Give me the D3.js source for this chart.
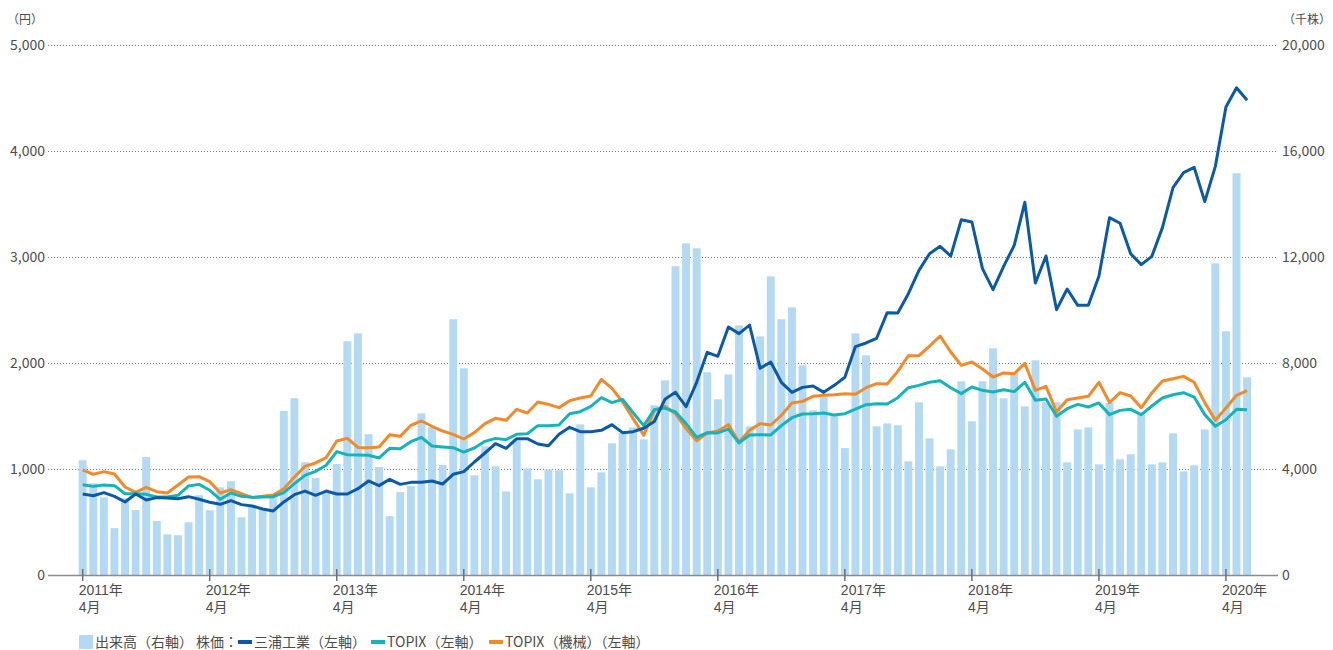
<!DOCTYPE html>
<html>
<head>
<meta charset="utf-8">
<style>
  body { margin: 0; background: #fff; }
  text { font-family: "Noto Sans CJK JP", "Noto Sans", sans-serif; fill: #4d4d4d; }
  text.xlab { font-family: "Liberation Sans", "Noto Sans CJK JP", sans-serif; }
</style>
</head>
<body>
  <div id="chart"></div>
  <script src="https://d3js.org/d3.v7.min.js"></script>
  <script>
    // monthly data, 2011/04 - 2020/06
    var startMonth = new Date(2011, 3, 1);

    // 出来高 (千株, right axis)
    var volume = [
      4330, 3460, 2930, 1770, 2900, 2450, 4450, 2040, 1535, 1500, 1990, 3010,
      2445, 3310, 3540, 2180, 2650, 2510, 2980, 6190, 6670, 4255, 3660, 3120,
      4190, 8820, 9120, 5315, 4075, 2220, 3130, 3360, 6100, 5580, 4150, 9650,
      7800, 3760, 4855, 4100, 3155, 5080, 4025, 3610, 3985, 3950, 3080, 5685,
      3310, 3875, 4970, 5350, 5570, 5120, 6400, 7345, 11650, 12515, 12330, 7650,
      6630, 7570, 9420, 5610, 9005, 11270, 9650, 10100, 7915, 6215, 6740, 6040,
      4790, 9120, 8290, 5610, 5720, 5650, 4290, 6515, 5155, 4100, 4740, 7310,
      5800, 7310, 8555, 6665, 7650, 6365, 8100, 6515, 6515, 4250, 5495, 5570,
      4175, 6490, 4365, 4555, 6080, 4175, 4250, 5345, 3910, 4140, 5495, 11760,
      9195, 15160, 7460
    ];

    // 三浦工業 (円)
    var miura = [
      764, 748, 777, 742, 689, 764, 708, 730, 726, 720, 739, 714,
      686, 667, 701, 664, 651, 623, 604, 689, 758, 792, 752, 792,
      764, 764, 814, 887, 843, 903, 855, 874, 874, 887, 858, 950,
      975, 1066, 1151, 1239, 1195, 1286, 1286, 1236, 1220, 1327, 1393, 1352,
      1352, 1365, 1418, 1343, 1352, 1384, 1448, 1657, 1723, 1588, 1818, 2101,
      2063, 2340, 2277, 2358, 1950, 2009, 1818, 1723, 1770, 1783, 1723, 1789,
      1865, 2155, 2189, 2233, 2475, 2472, 2654, 2874, 3031, 3101, 3009, 3352,
      3330, 2890, 2692, 2912, 3110, 3516, 2755, 3010, 2503, 2698, 2544, 2544,
      2818, 3371, 3318, 3031, 2928, 3006, 3277, 3654, 3796, 3846, 3522, 3855,
      4415, 4597, 4478
    ];

    // TOPIX (index, scaled to left axis)
    var topix = [
      852, 836, 849, 843, 767, 767, 761, 736, 736, 752, 840, 855,
      799, 714, 774, 742, 733, 736, 739, 777, 862, 940, 978, 1035,
      1164, 1135, 1132, 1129, 1104, 1195, 1192, 1258, 1299, 1217, 1208, 1201,
      1160, 1198, 1261, 1289, 1277, 1327, 1333, 1409, 1409, 1415, 1522, 1541,
      1591, 1673, 1626, 1657, 1531, 1409, 1560, 1575, 1538, 1428, 1299, 1343,
      1340, 1377, 1245, 1321, 1324, 1321, 1409, 1484, 1519, 1522, 1528, 1509,
      1522, 1565, 1607, 1616, 1613, 1673, 1767, 1789, 1818, 1833, 1767, 1711,
      1774, 1742, 1726, 1748, 1730, 1818, 1648, 1660, 1497, 1569, 1610, 1585,
      1623, 1513, 1553, 1563, 1513, 1594, 1670, 1701, 1720, 1679, 1513, 1403,
      1465, 1563, 1560
    ];

    // TOPIX (機械)
    var topixMach = [
      991, 950, 975, 953, 830, 780, 827, 786, 774, 849, 925, 928,
      881, 774, 805, 767, 730, 742, 755, 814, 925, 1025, 1057, 1107,
      1264, 1289, 1204, 1201, 1208, 1324, 1308, 1412, 1453, 1403, 1358, 1327,
      1283, 1343, 1428, 1478, 1459, 1563, 1528, 1632, 1610, 1579, 1645, 1670,
      1689, 1846, 1761, 1632, 1475, 1318, 1553, 1591, 1522, 1381, 1267, 1340,
      1358, 1418, 1255, 1365, 1428, 1415, 1506, 1623, 1638, 1686, 1695, 1701,
      1711, 1706, 1767, 1805, 1802, 1921, 2069, 2069, 2160, 2255, 2104, 1978,
      2009, 1943, 1868, 1906, 1899, 1997, 1742, 1780, 1538, 1654, 1670, 1686,
      1818, 1626, 1720, 1689, 1579, 1717, 1830, 1852, 1874, 1818, 1626, 1459,
      1575, 1695, 1739
    ];

    var leftTicks = [0, 1000, 2000, 3000, 4000, 5000];
    var rightTicks = [0, 4000, 8000, 12000, 16000, 20000];
    var tickYears = [2011, 2012, 2013, 2014, 2015, 2016, 2017, 2018, 2019, 2020];

    var months = d3.timeMonth.range(startMonth, d3.timeMonth.offset(startMonth, volume.length));

    var width = 1333,
      height = 650;

    var svg = d3.select("#chart")
      .append("svg")
      .attr("width", width)
      .attr("height", height);

    // scales
    var x = d3.scaleBand()
      .domain(months)
      .range([77.4, 1252.4])
      .paddingInner(0.25)
      .paddingOuter(0.125);

    var yL = d3.scaleLinear().domain([0, 5000]).range([575, 45]);
    var yR = d3.scaleLinear().domain([0, 20000]).range([575, 45]);

    var gridLeft = 48,
      gridRight = 1278;

    // dotted grid lines
    svg.append("g")
      .selectAll("line")
      .data(leftTicks.slice(1))
      .enter()
      .append("line")
      .attr("x1", gridLeft)
      .attr("x2", gridRight)
      .attr("y1", function(d) { return yL(d) + 0.5; })
      .attr("y2", function(d) { return yL(d) + 0.5; })
      .style("stroke", "#7a7a7a")
      .style("stroke-width", 1)
      .style("stroke-dasharray", "1,2");

    // left axis labels
    svg.append("g")
      .selectAll("text")
      .data(leftTicks)
      .enter()
      .append("text")
      .attr("x", 45)
      .attr("y", function(d) { return yL(d); })
      .attr("dy", "0.35em")
      .style("text-anchor", "end")
      .style("font-size", "14px")
      .text(d3.format(","));

    // right axis labels
    svg.append("g")
      .selectAll("text")
      .data(rightTicks)
      .enter()
      .append("text")
      .attr("x", 1282)
      .attr("y", function(d) { return yR(d); })
      .attr("dy", "0.35em")
      .style("text-anchor", "start")
      .style("font-size", "14px")
      .text(d3.format(","));

    svg.append("text")
      .attr("x", 7)
      .attr("y", 20)
      .attr("dy", "0.35em")
      .style("font-size", "12px")
      .text("（円）");

    svg.append("text")
      .attr("x", 1331)
      .attr("y", 20)
      .attr("dy", "0.35em")
      .style("text-anchor", "end")
      .style("font-size", "12px")
      .text("（千株）");

    // volume bars
    svg.append("g")
      .selectAll("rect")
      .data(volume)
      .enter()
      .append("rect")
      .attr("x", function(d, i) { return x(months[i]); })
      .attr("width", x.bandwidth())
      .attr("y", function(d) { return yR(d); })
      .attr("height", function(d) { return yR(0) - yR(d); })
      .style("fill", "#b3daf2");

    // baseline + april ticks
    svg.append("line")
      .attr("x1", gridLeft)
      .attr("x2", gridRight)
      .attr("y1", 575.5)
      .attr("y2", 575.5)
      .style("stroke", "#8c8c8c")
      .style("stroke-width", 1.5);

    var aprils = tickYears.map(function(y) { return new Date(y, 3, 1); });
    var xCenter = function(d) { return x(d) + x.bandwidth() / 2; };

    var xt = svg.append("g")
      .selectAll("g")
      .data(aprils)
      .enter()
      .append("g")
      .attr("transform", function(d) { return "translate(" + xCenter(d) + ",0)"; });

    xt.append("line")
      .attr("y1", 569)
      .attr("y2", 581)
      .style("stroke", "#6e6e6e")
      .style("stroke-width", 1.5);

    // two-line label: year / month
    xt.append("text")
      .attr("class", "xlab")
      .attr("x", -4)
      .attr("y", 590)
      .attr("dy", "0.35em")
      .style("font-size", "14px")
      .text(function(d) { return d.getFullYear() + "年"; });

    xt.append("text")
      .attr("class", "xlab")
      .attr("x", -4)
      .attr("y", 607)
      .attr("dy", "0.35em")
      .style("font-size", "14px")
      .text("4月");

    // price lines
    var series = [
      { values: topixMach, color: "#f28a2a" },
      { values: topix, color: "#13b4ba" },
      { values: miura, color: "#0b5aa8" }
    ];

    var line = d3.line()
      .x(function(d, i) { return xCenter(months[i]); })
      .y(function(d) { return yL(d); });

    svg.append("g")
      .selectAll("path")
      .data(series)
      .enter()
      .append("path")
      .attr("d", function(s) { return line(s.values); })
      .style("fill", "none")
      .style("stroke", function(s) { return s.color; })
      .style("stroke-width", 3)
      .style("stroke-linejoin", "round");

    // legend
    var lg = svg.append("g").attr("transform", "translate(0,642)");

    lg.append("rect")
      .attr("x", 79).attr("y", -7)
      .attr("width", 14).attr("height", 14)
      .style("fill", "#b3daf2");
    lg.append("text").attr("x", 95).attr("dy", "0.35em").style("font-size", "14px").text("出来高（右軸）");
    lg.append("text").attr("x", 196).attr("dy", "0.35em").style("font-size", "14px").text("株価：");

    var legendLines = [
      { x: 238, color: "#0b5aa8", label: "三浦工業（左軸）" },
      { x: 371, color: "#13b4ba", label: "TOPIX（左軸）" },
      { x: 489, color: "#f28a2a", label: "TOPIX（機械）（左軸）" }
    ];

    legendLines.forEach(function(d) {
      lg.append("rect")
        .attr("x", d.x).attr("y", -2)
        .attr("width", 14).attr("height", 4)
        .style("fill", d.color);
      lg.append("text")
        .attr("x", d.x + 16)
        .attr("dy", "0.35em")
        .style("font-size", "14px")
        .text(d.label);
    });
  </script>
</body>
</html>
